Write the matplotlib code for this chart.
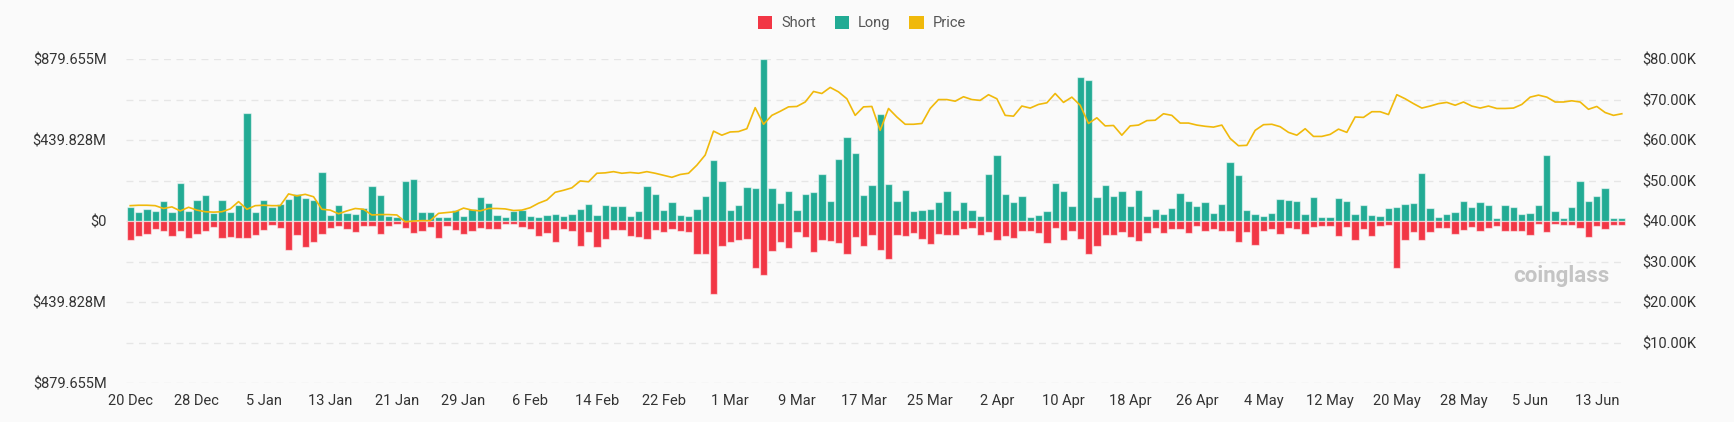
import pandas as pd
import matplotlib
matplotlib.use("Agg")
import matplotlib.pyplot as plt
from matplotlib.patches import Patch
from matplotlib.ticker import FixedLocator, FixedFormatter

# daily liquidations (million USD) and BTC price (thousand USD), 20 Dec 2023 -> 16 Jun 2024
start_date = "2023-12-20"

long_liq = [
    74, 51, 65, 52, 110, 49, 204, 54, 117, 139,
    43, 112, 47, 87, 589, 47, 112, 76, 90, 119,
    145, 126, 114, 269, 33, 85, 45, 38, 69, 193,
    139, 25, 20, 217, 229, 47, 47, 22, 20, 58,
    27, 63, 132, 96, 33, 22, 56, 58, 27, 23,
    31, 40, 29, 40, 63, 90, 33, 85, 83, 81,
    29, 54, 192, 145, 61, 105, 34, 29, 67, 134,
    334, 219, 60, 87, 183, 181, 879.655, 181, 99, 161,
    61, 148, 157, 258, 108, 338, 457, 372, 139, 195,
    580, 199, 107, 166, 54, 58, 63, 103, 163, 60,
    101, 61, 25, 253, 356, 148, 101, 134, 22, 31,
    52, 204, 164, 80, 782, 768, 132, 197, 136, 161,
    80, 168, 27, 63, 38, 72, 155, 107, 83, 101,
    42, 90, 320, 248, 58, 36, 27, 42, 119, 117,
    110, 40, 128, 22, 23, 123, 108, 40, 85, 33,
    29, 72, 74, 90, 99, 260, 72, 23, 40, 51,
    110, 78, 105, 87, 14, 85, 76, 38, 42, 85,
    360, 56, 18, 74, 220, 108, 134, 179, 14, 14,
]

short_liq = [
    105, 81, 69, 45, 54, 80, 54, 94, 70, 52,
    31, 90, 87, 90, 94, 76, 51, 23, 36, 157,
    78, 143, 114, 72, 36, 27, 43, 58, 27, 29,
    72, 27, 16, 36, 67, 56, 34, 90, 27, 47,
    70, 54, 38, 43, 43, 16, 16, 34, 43, 80,
    65, 116, 43, 52, 134, 60, 143, 98, 51, 51,
    81, 87, 98, 51, 61, 42, 54, 60, 179, 179,
    396, 134, 114, 103, 98, 253, 293, 161, 114, 148,
    60, 85, 166, 103, 107, 119, 181, 87, 134, 78,
    157, 206, 76, 80, 63, 98, 123, 70, 76, 78,
    43, 36, 78, 58, 101, 83, 92, 56, 56, 65,
    117, 38, 103, 52, 98, 179, 134, 76, 78, 60,
    85, 110, 67, 38, 65, 45, 43, 67, 27, 56,
    45, 52, 56, 112, 60, 132, 56, 43, 69, 38,
    42, 72, 31, 27, 27, 81, 31, 105, 42, 81,
    27, 20, 253, 103, 58, 103, 58, 40, 40, 72,
    47, 33, 54, 38, 27, 54, 54, 54, 78, 18,
    58, 18, 20, 22, 38, 89, 25, 45, 23, 20,
]

price = [
    43.8, 43.9, 43.9, 43.8, 43.1, 43.5, 42.5, 43.4, 42.7, 42.3,
    42.2, 42.3, 43.0, 44.8, 42.9, 43.8, 43.9, 43.8, 43.8, 46.7,
    46.2, 46.6, 46.0, 42.9, 42.7, 41.8, 42.5, 43.1, 42.9, 41.5,
    41.6, 41.6, 41.5, 39.8, 40.0, 40.1, 40.1, 41.9, 42.1, 42.3,
    43.2, 42.7, 42.5, 43.1, 43.1, 43.0, 42.6, 42.7, 43.3, 44.4,
    45.2, 47.1, 47.6, 48.2, 49.9, 49.7, 51.8, 51.9, 52.2, 51.8,
    52.0, 51.8, 52.2, 51.8, 51.3, 50.8, 51.5, 51.8, 53.8, 56.3,
    62.2, 61.2, 62.0, 62.1, 62.8, 68.0, 63.9, 66.1, 67.1, 68.2,
    68.3, 69.4, 72.0, 71.5, 73.0, 71.9, 70.2, 66.1, 68.2, 68.3,
    62.4, 67.8, 65.7, 63.9, 63.9, 64.1, 67.8, 70.0, 70.0, 69.6,
    70.7, 70.0, 69.8, 71.2, 70.2, 66.1, 65.9, 68.4, 67.9, 68.8,
    69.2, 71.5, 69.3, 70.6, 68.6, 64.1, 65.5, 63.5, 63.6, 61.2,
    63.5, 63.7, 64.8, 64.9, 66.5, 66.1, 64.2, 64.2, 63.7, 63.4,
    63.2, 63.7, 60.4, 58.6, 58.7, 62.4, 63.8, 63.9, 63.3, 61.9,
    61.2, 62.8, 60.9, 60.9, 61.4, 62.7, 61.9, 65.7, 65.6, 67.0,
    67.0, 66.3, 71.2, 70.2, 69.0, 67.9, 68.4, 69.0, 69.3, 68.6,
    69.4, 68.4, 67.9, 68.4, 67.8, 67.8, 67.9, 68.8, 70.6, 71.1,
    70.6, 69.4, 69.4, 69.7, 69.4, 67.6, 68.3, 66.8, 66.1, 66.5,
]

left_labels = ["$879.655M", "", "$439.828M", "", "$0", "", "$439.828M", "", "$879.655M"]
right_labels = ["$10.00K", "$20.00K", "$30.00K", "$40.00K",
                "$50.00K", "$60.00K", "$70.00K", "$80.00K"]

dates = pd.date_range(start_date, periods=len(long_liq), freq="D")
tick_labels = [f"{d.day} {d.strftime('%b')}" for d in dates]

LONG_C = "#22ab94"
SHORT_C = "#f23645"
PRICE_C = "#f0b90b"
BG = "#fafafa"
TEXT_C = "#333333"

plt.rcParams["font.family"] = ["Roboto", "DejaVu Sans"]

fig = plt.figure(figsize=(17.34, 4.22), dpi=100, facecolor=BG)
ax = fig.add_axes([0.0727, 0.0924, 0.8650, 0.7676])
ax.set_facecolor(BG)

x = list(range(len(long_liq)))
edge = (1, 1, 1, 0.55)
ax.bar(x, [v * 1e6 for v in long_liq], width=0.88, color=LONG_C,
       edgecolor=edge, linewidth=0.9, zorder=2)
ax.bar(x, [-v * 1e6 for v in short_liq], width=0.88, color=SHORT_C,
       edgecolor=edge, linewidth=0.9, zorder=2)

ymax = 879.655e6
step = ymax / 4
ax.set_ylim(-ymax, ymax)
ax.set_xlim(-0.5, len(x) - 0.5)
levels = [-ymax + k * step for k in range(9)]
ax.yaxis.set_major_locator(FixedLocator(levels))
ax.yaxis.set_major_formatter(FixedFormatter(left_labels[::-1]))
for lv in levels:
    ax.axhline(lv, color="#e6e6e6", linewidth=1.0, linestyle=(0, (5, 4)), zorder=0)

ax.set_xticks(x[::8])
ax.set_xticklabels(tick_labels[::8])
ax.tick_params(axis="both", length=0, labelsize=10.5, labelcolor=TEXT_C)
ax.tick_params(axis="x", pad=8)
ax.tick_params(axis="y", pad=14)
for s in ax.spines.values():
    s.set_visible(False)

ax2 = ax.twinx()
ax2.plot(x, [p * 1000 for p in price], color=PRICE_C, linewidth=1.2, zorder=3)
ax2.set_ylim(0, 80000)
ax2.set_yticks([10000 * k for k in range(1, 9)])
ax2.set_yticklabels(right_labels)
ax2.tick_params(axis="y", length=0, labelsize=10.5, labelcolor=TEXT_C, pad=12)
for s in ax2.spines.values():
    s.set_visible(False)

# watermark
fig.text(0.928, 0.345, "coinglass", ha="right", va="center", fontsize=16,
         fontweight="bold", color="#c4c4c4")

handles = [
    Patch(facecolor=SHORT_C, edgecolor="none", label="Short"),
    Patch(facecolor=LONG_C, edgecolor="none", label="Long"),
    Patch(facecolor=PRICE_C, edgecolor="none", label="Price"),
]
leg = fig.legend(handles=handles, loc="center", bbox_to_anchor=(0.497, 0.945),
                 ncol=3, frameon=False, fontsize=10.5, handlelength=1.0,
                 handleheight=1.0, handletextpad=0.6, columnspacing=1.3)
for t in leg.get_texts():
    t.set_color("#555555")

fig.savefig("out.png", dpi=100, facecolor=BG)
